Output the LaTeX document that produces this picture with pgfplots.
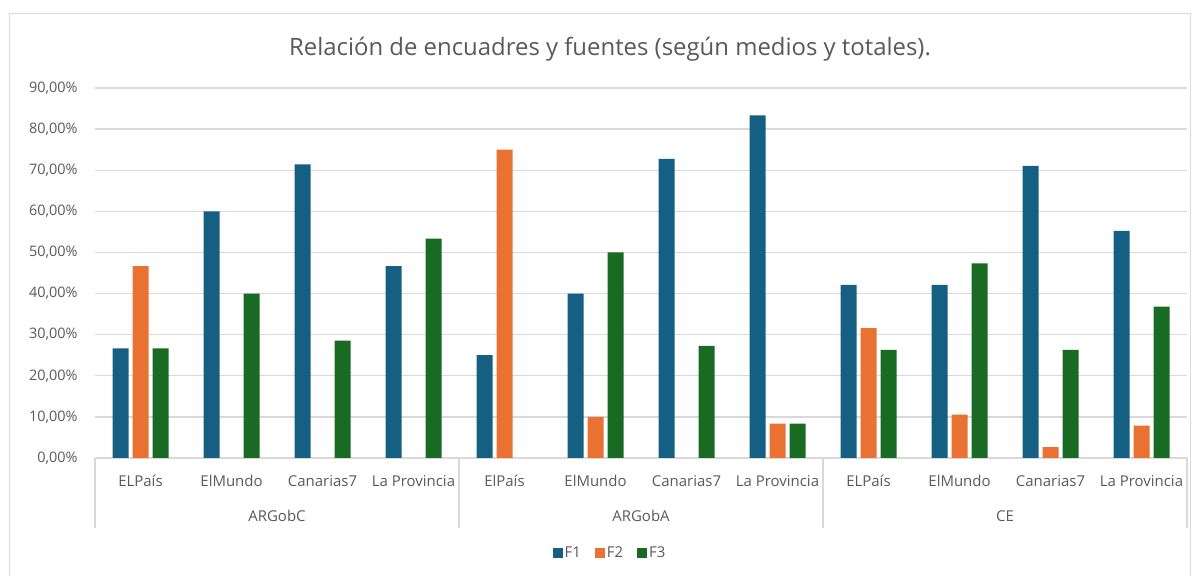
\documentclass[border=0pt]{standalone}
\usepackage{pgfplots}
\pgfplotsset{compat=1.18}
\usepackage{fontspec}
\setmainfont{Open Sans}
\definecolor{cF1}{HTML}{156082}
\definecolor{cF2}{HTML}{E97132}
\definecolor{cF3}{HTML}{196B24}
\definecolor{txt}{HTML}{595959}
\definecolor{gridc}{HTML}{D9D9D9}
\begin{document}
\begin{tikzpicture}[x=1bp,y=1bp]
\useasboundingbox (0,0) rectangle (1197,576);
\draw[gridc, line width=1bp] (9,-5) rectangle (1190,562);
\begin{axis}[at={(95bp,118bp)}, anchor=south west, scale only axis,
  width=1092bp, height=370bp,
  ybar=4bp, bar width=16bp, clip=false,
  xmin=-0.5, xmax=11.5, ymin=0, ymax=90,
  xtick={0,...,11},
  xticklabels={ELPaís,ElMundo,Canarias7,La Provincia,ElPaís,ElMundo,Canarias7,La Provincia,ELPaís,ElMundo,Canarias7,La Provincia},
  ytick={0,10,...,90},
  yticklabels={{0,00\%},{10,00\%},{20,00\%},{30,00\%},{40,00\%},{50,00\%},{60,00\%},{70,00\%},{80,00\%},{90,00\%}},
  ymajorgrids, grid style={gridc, line width=1.3bp},
  axis x line*=bottom, axis y line*=left,
  y axis line style={draw=none},
  x axis line style={gridc, line width=1.3bp, -},
  major tick length=0pt,
  yticklabel style={font=\fontsize{14.5}{16}\selectfont, text=txt, anchor=east, xshift=-14bp},
  xticklabel style={font=\fontsize{15}{17}\selectfont, text=txt, anchor=north, yshift=-14bp},
  title={Relación de encuadres y fuentes (según medios y totales).},
  title style={at={(0.4716,1.09)}, anchor=center, font=\fontsize{24}{28}\selectfont, text=txt},
  legend style={at={(0.4716,-0.257)}, anchor=center, draw=none, fill=none,
    legend columns=3, font=\fontsize{15}{17}\selectfont, text=txt,
    /tikz/every even column/.append style={column sep=12bp}},
]
\addplot[fill=cF1, draw=none, legend image code/.code={\fill[cF1] (0bp,-5bp) rectangle (10bp,5bp);}]
  coordinates {(0,26.67)(1,60)(2,71.43)(3,46.67)(4,25)(5,40)(6,72.73)(7,83.33)(8,42.11)(9,42.11)(10,71.05)(11,55.26)};
\addplot[fill=cF2, draw=none, legend image code/.code={\fill[cF2] (0bp,-5bp) rectangle (10bp,5bp);}]
  coordinates {(0,46.67)(4,75)(5,10)(7,8.33)(8,31.58)(9,10.53)(10,2.63)(11,7.89)};
\addplot[fill=cF3, draw=none, legend image code/.code={\fill[cF3] (0bp,-5bp) rectangle (10bp,5bp);}]
  coordinates {(0,26.67)(1,40)(2,28.57)(3,53.33)(5,50)(6,27.27)(7,8.33)(8,26.32)(9,47.37)(10,26.32)(11,36.84)};
\legend{F1,F2,F3}
\foreach \xx in {-0.5,3.5,7.5,11.5} {
  \edef\tmp{\noexpand\draw[gridc, line width=1.3bp] (axis cs:\xx,0) -- ([yshift=-70bp]axis cs:\xx,0);}\tmp
}
\node[font=\fontsize{15}{17}\selectfont, text=txt] at ([yshift=-58bp]axis cs:1.5,0) {ARGobC};
\node[font=\fontsize{15}{17}\selectfont, text=txt] at ([yshift=-58bp]axis cs:5.5,0) {ARGobA};
\node[font=\fontsize{15}{17}\selectfont, text=txt] at ([yshift=-58bp]axis cs:9.5,0) {CE};
\end{axis}
\end{tikzpicture}
\end{document}
